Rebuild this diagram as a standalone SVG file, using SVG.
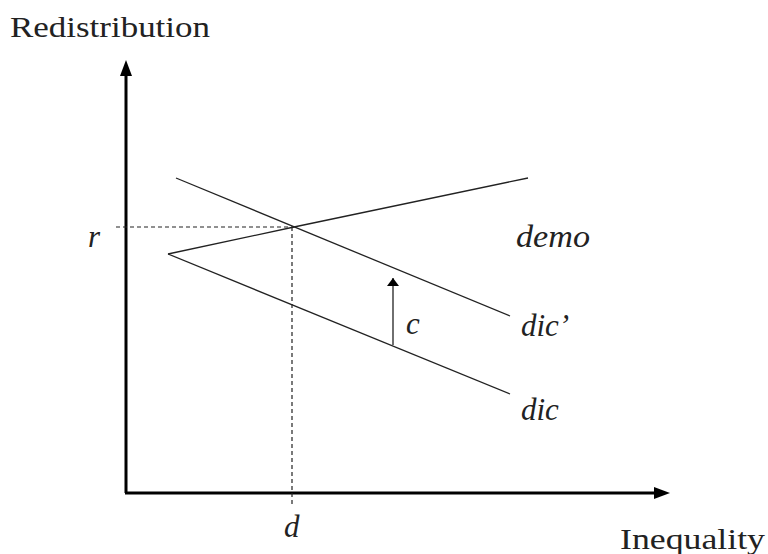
<svg xmlns="http://www.w3.org/2000/svg" width="768" height="554" viewBox="0 0 768 554">
<defs>
<marker id="ah" viewBox="0 0 8 12" refX="8" refY="6" markerWidth="8" markerHeight="12" markerUnits="userSpaceOnUse" orient="auto">
<path d="M0,0 L8,6 L0,12 z" fill="#000"/>
</marker>
</defs>
<style>
.ax{stroke:#000;stroke-width:3;fill:none}
.ln{stroke:#222;stroke-width:1.3;fill:none}
.ds{stroke:#222;stroke-width:1.2;stroke-dasharray:4,3;fill:none}
.lab{font-family:"Liberation Serif",serif;font-size:30px;fill:#222}
.it{font-family:"Liberation Serif",serif;font-size:31px;font-style:italic;fill:#222}
</style>
<rect width="768" height="554" fill="#fff"/>
<g id="axes">
<path class="ax" d="M126,493 V74"/>
<path d="M120,76 L126,60 L132,76 z" fill="#000"/>
<path class="ax" d="M125,493 H656"/>
<path d="M654,487 L670,493 L654,499 z" fill="#000"/>
</g>
<g id="connectors">
<path class="ds" d="M116,227 H294"/>
<path class="ds" d="M292,227 V505"/>
<path class="ln" d="M176,178 L510,316"/>
<path class="ln" d="M168,254 L294,227 L528,178"/>
<path class="ln" d="M168,254 L510,394"/>
<path class="ln" stroke-width="2" d="M393,345 V278" marker-end="url(#ah)"/>
</g>
<g id="labels">
<text class="lab" x="10" y="37" textLength="200" lengthAdjust="spacingAndGlyphs">Redistribution</text>
<text class="it" x="88" y="247">r</text>
<text class="it" x="516" y="247" textLength="74" lengthAdjust="spacingAndGlyphs">demo</text>
<text class="it" x="521" y="336">dic’</text>
<text class="it" x="406" y="334">c</text>
<text class="it" x="521" y="420">dic</text>
<text class="it" x="284" y="537">d</text>
<text class="lab" x="620" y="549" textLength="145" lengthAdjust="spacingAndGlyphs">Inequality</text>
</g>
</svg>
